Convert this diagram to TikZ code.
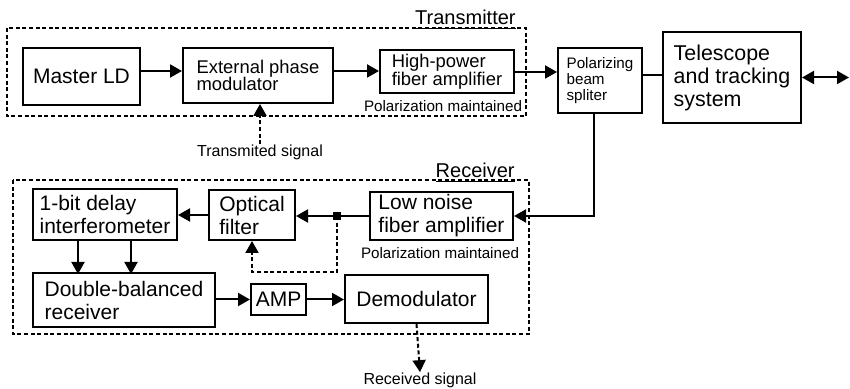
\documentclass[tikz,border=0pt]{standalone}
\usepackage{fontspec}
\setmainfont{Liberation Sans}
\usetikzlibrary{arrows.meta}
\begin{document}
\begin{tikzpicture}[
  x=0.5pt, y=-0.5pt,
  blk/.style={draw, line width=1pt, align=left, inner sep=1pt, font=\fontsize{10.5}{11.5}\selectfont},
  midtxt/.style={font=\fontsize{9.2}{8.8}\selectfont},
  smltxt/.style={font=\fontsize{7.6}{8}\selectfont},
  lbl/.style={inner sep=0pt, font=\fontsize{8}{9}\selectfont},
  ttl/.style={inner sep=0pt, anchor=base east, font=\fontsize{10}{12}\selectfont},
  arr/.style={line width=1pt, -{Triangle[length=6pt,width=6.5pt]}},
  darr/.style={arr, dash pattern=on 2pt off 1.3pt},
  frame/.style={line width=0.9pt, dash pattern=on 2pt off 1.3pt}
]
\useasboundingbox (0,0) rectangle (850,389);

% transmitter
\draw[frame] (7,28) rectangle (526,116);
\node[ttl] (txl) at (516,25) {\underline{Transmitter}};
\node[blk, minimum width=58.5pt, minimum height=28.5pt] (ld) at (81.5,76.5) {Master LD};
\node[blk, midtxt, minimum width=75pt, minimum height=27.5pt] (epm) at (258,75.5) {External phase\\modulator};
\node[blk, midtxt, minimum width=67pt, minimum height=21.5pt] (hpa) at (447,71.5) {High-power\\fiber amplifier};
\node[lbl, smltxt] (pm1) at (443,106) {Polarization maintained};
\node[lbl] (txs) at (260,152) {Transmited signal};

\node[blk, smltxt, minimum width=42pt, minimum height=32.5pt] (pbs) at (600,80.5) {Polarizing\\beam\\spliter};
\node[blk, font=\fontsize{10.7}{11.5}\selectfont, minimum width=69pt, minimum height=45.5pt] (tel) at (732,77.5) {Telescope\\and tracking\\system};
\coordinate (ant) at (849,77.5);

% receiver
\draw[frame] (13,180) rectangle (529,334);
\node[ttl] (rxl) at (515,178) {\underline{Receiver}};
\node[blk, minimum width=71.5pt, minimum height=24pt] (lna) at (441.5,216) {Low noise\\fiber amplifier};
\node[lbl, smltxt] (pm2) at (440,253) {Polarization maintained};
\node[blk, minimum width=43pt, minimum height=25pt] (of) at (252,215) {Optical\\filter};
\node[blk, minimum width=72pt, minimum height=25.5pt] (dly) at (105,214.5) {1-bit delay\\interferometer};
\node[blk, minimum width=91pt, minimum height=27pt] (dbr) at (124,300) {Double-balanced\\receiver};
\node[blk, minimum width=27.5pt, minimum height=15.5pt] (amp) at (278.5,299.5) {AMP};
\node[blk, minimum width=71.5pt, minimum height=24pt] (dem) at (416.5,299) {Demodulator};
\node[lbl] (rxs) at (420,380) {Received signal};
\coordinate (jn) at (337,216);
\coordinate (fbk) at (337,272);

\draw[arr] (ld.east |- 0,71) -- (epm.west |- 0,71);
\draw[arr] (epm.east |- 0,71) -- (hpa.west |- 0,71);
\draw[arr] (hpa.east |- 0,72) -- (pbs.west |- 0,72);
\draw[darr] (txs.north) -- (txs.north |- epm.south);
\draw[line width=1pt] (pbs.east |- 0,75) -- (tel.west |- 0,75);
\draw[line width=1pt, {Triangle[length=6pt,width=6.5pt]}-{Triangle[length=6pt,width=6.5pt]}] (tel.east |- ant) -- (ant);
\draw[arr] ([xshift=-3pt]pbs.south) |- (lna.east);

\draw[arr] (lna.west) -- (of.east |- lna.west);
\node[fill, inner sep=0pt, minimum size=4pt] at (jn) {};
\draw[darr] (jn) -- (fbk) -| (of.south);
\draw[arr] (of.west) -- (of.west -| dly.east);
\foreach \dx in {-13.5pt,13pt}
  \draw[arr] ([xshift=\dx]dly.south) -- ++(0,33);
\draw[arr] (dbr.east |- amp.west) -- (amp.west);
\draw[arr] (amp.east) -- (amp.east -| dem.west);
\draw[darr] (dem.south) -- (rxs.north);
\end{tikzpicture}
\end{document}
